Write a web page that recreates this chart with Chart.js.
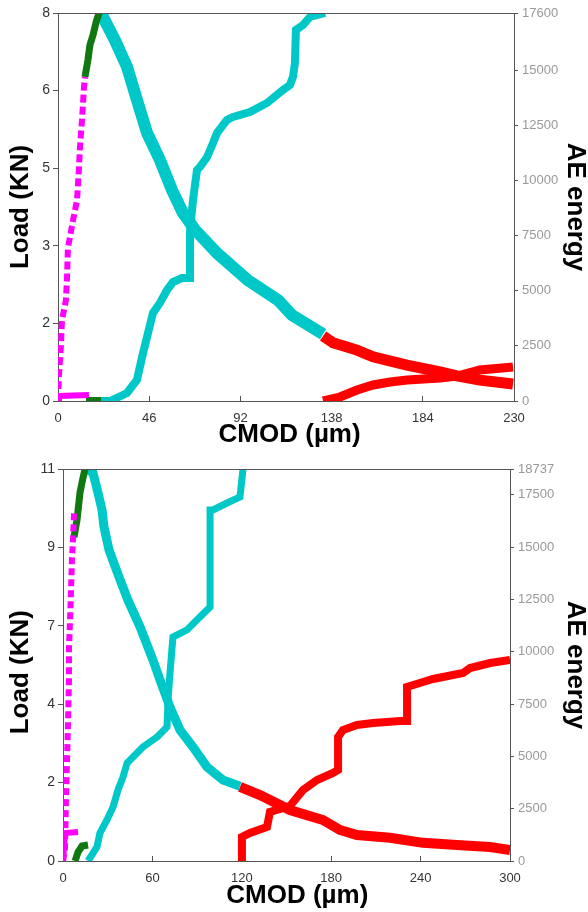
<!DOCTYPE html>
<html>
<head>
<meta charset="utf-8">
<script src="https://cdn.jsdelivr.net/npm/chart.js@4.4.1/dist/chart.umd.min.js"></script>
<style>
  html, body { margin: 0; padding: 0; background: #fff; }
  canvas { display: block; }
</style>
</head>
<body>
<canvas id="chartTop" width="588" height="456"></canvas>
<canvas id="chartBottom" width="588" height="456"></canvas>
<script>
// --- top specimen: [CMOD µm, value] ---
const topMagentaLoad = [[0,0],[0.5,0.54],[1.5,1.15],[2.0,1.67],[4.0,2.08],[4.5,2.49],[5.0,3.15],[7.6,3.73],[9.6,4.14],[10.6,4.82],[11.1,5.24],[12.1,5.79],[13.1,6.47],[13.6,6.68]];
const topGreenLoad = [[13.6,6.68],[15.1,7.03],[16.1,7.34],[17.7,7.55],[19.2,7.81],[20.7,8.0]];
const topCyanLoad = [[21.7,8.0],[28.7,7.44],[34.8,6.89],[39.8,6.21],[44.9,5.53],[51.4,4.97],[57.5,4.35],[63.0,3.88],[69.1,3.53],[80.2,3.05],[95.8,2.49],[111.0,2.08],[118.0,1.77],[133.7,1.38]];
const topRedLoad = [[133.7,1.34],[138.7,1.20],[150.8,1.05],[158.9,0.91],[176.0,0.74],[192.7,0.60],[201.2,0.52],[212.8,0.43],[229.5,0.35]];

const topMagentaEnergy = [[0,0],[0.5,227],[15.6,272]];
const topGreenEnergy = [[14.1,45],[21.7,45]];
const topCyanEnergy = [[21.7,0],[26.2,0],[34.8,363],[39.8,953],[42.9,2177],[45.4,3085],[47.9,3992],[51.4,4445],[55.0,5035],[58.0,5398],[62.5,5580],[66.6,5580],[66.6,7757],[68.1,9118],[70.1,10479],[71.6,10615],[75.2,11068],[78.2,11703],[80.2,12157],[85.2,12746],[88.3,12882],[96.8,13109],[105.4,13517],[113.5,14107],[117.0,14334],[118.5,14697],[119.5,15332],[120.0,16829],[123.6,17056],[127.1,17419],[134.7,17600]];
const topRedEnergy = [[133.7,0],[142.2,181],[150.8,499],[158.9,726],[167.5,862],[176.1,953],[192.7,1043],[201.2,1134],[212.8,1406],[229.5,1542]];

const topCmodTicks = [0,46,92,138,184,230];
const topLoadTicks = [0,1.6,3.2,4.8,6.4,8];
const topEnergyTicks = [0,2500,5000,7500,10000,12500,15000,17600];

// --- bottom specimen ---
const bottomMagentaLoad = [[0,0],[1.3,0.31],[2.0,1.71],[2.7,2.83],[3.4,3.96],[4.0,5.08],[4.0,5.92],[4.7,6.76],[5.4,7.60],[6.0,8.45],[6.7,9.01],[7.4,9.76]];
const bottomGreenLoad = [[7.4,9.09],[9.4,9.57],[11.4,10.33],[13.4,10.75],[14.8,11.0]];
const bottomCyanLoad = [[16.1,11.0],[20.1,10.89],[23.5,10.33],[26.2,9.85],[27.5,9.37],[30.9,8.73],[37.6,7.97],[43.6,7.32],[51.7,6.57],[60.4,5.64],[65.1,5.08],[71.8,4.32],[78.5,3.68],[87.2,3.20],[96.6,2.64],[107.4,2.27],[118.8,2.10]];
const bottomRedLoad = [[118.8,2.08],[132.2,1.85],[145.6,1.57],[152.3,1.43],[174.5,1.15],[185.9,0.87],[197.3,0.73],[219.5,0.65],[241.6,0.51],[264.4,0.45],[286.6,0.39],[300,0.31]];

const bottomMagentaEnergy = [[0,0],[1.3,1338],[10.1,1386]];
const bottomGreenEnergy = [[8.1,0],[10.1,430],[12.8,717],[16.8,765]];
const bottomCyanEnergy = [[16.8,0],[22.8,669],[24.8,1338],[29.5,1960],[33.6,2581],[36.9,3394],[40.3,4015],[43.0,4684],[47.0,4971],[53.7,5449],[63.1,5927],[69.8,6405],[70.5,7696],[71.8,8986],[73.8,10707],[83.2,11042],[91.9,11663],[98.7,12141],[98.7,16778],[100.7,16778],[110.1,17112],[118.8,17399],[120.8,18737]];
const bottomRedEnergy = [[120.1,0],[120.1,1147],[125.5,1338],[136.9,1625],[138.9,2342],[152.3,2629],[161.1,3394],[170.5,3872],[181.2,4206],[184.6,4350],[184.6,5927],[187.9,6262],[197.3,6501],[208.1,6596],[226.2,6692],[230.9,6692],[230.9,8317],[241.6,8556],[248.3,8700],[268.5,8986],[273.2,9225],[286.6,9464],[300,9608]];

const bottomCmodTicks = [0,60,120,180,240,300];
const bottomLoadTicks = [0,2.2,4.4,6.6,8.8,11];
const bottomEnergyTicks = [0,2500,5000,7500,10000,12500,15000,17500,18737];

const MAGENTA = '#ff00ff', GREEN = '#117711', CYAN = '#00c8c8', RED = '#ff0000';
const FONT = 'Liberation Sans, Arial, sans-serif';

function series(arr, color, axis, width, dash) {
  return {
    data: arr.map(p => ({ x: p[0], y: p[1] })),
    yAxisID: axis,
    showLine: true,
    borderColor: color,
    backgroundColor: color,
    borderWidth: width,
    borderDash: dash || [],
    borderCapStyle: 'butt',
    pointRadius: 0,
    tension: 0,
    fill: false,
  };
}

// top edge of the box
const framePlugin = {
  id: 'frame',
  afterDraw(chart) {
    const { ctx, chartArea: a } = chart;
    ctx.save();
    ctx.strokeStyle = '#555';
    ctx.lineWidth = 1;
    ctx.beginPath();
    ctx.moveTo(a.left, a.top + 0.5);
    ctx.lineTo(a.right, a.top + 0.5);
    ctx.stroke();
    ctx.restore();
  }
};

function makeChart(canvasId, c) {
  const ctx = document.getElementById(canvasId).getContext('2d');
  return new Chart(ctx, {
    type: 'scatter',
    data: { datasets: c.datasets },
    plugins: [framePlugin],
    options: {
      responsive: false,
      animation: false,
      devicePixelRatio: 1,
      layout: { padding: { top: 13, left: 0, right: 0, bottom: 0 } },
      plugins: { legend: { display: false }, tooltip: { enabled: false } },
      scales: {
        x: {
          type: 'linear', position: 'bottom', min: 0, max: c.xMax,
          afterBuildTicks: s => { s.ticks = c.xTicks.map(v => ({ value: v })); },
          afterFit: s => { s.height = c.bottomH; },
          ticks: { color: '#333', font: { family: FONT, size: 13 }, padding: 15, maxRotation: 0, callback: v => String(v) },
          grid: { drawOnChartArea: false, tickLength: -5, color: '#555' },
          border: { color: '#555' },
          title: { display: true, text: c.xTitle, color: '#000', font: { family: FONT, size: 26, weight: 'bold', lineHeight: 1 }, padding: { top: 0, bottom: c.xTitlePad } }
        },
        load: {
          type: 'linear', position: 'left', min: 0, max: c.loadMax,
          afterBuildTicks: s => { s.ticks = c.loadTicks.map(v => ({ value: v })); },
          afterFit: s => { s.width = c.leftW; },
          ticks: { color: '#333', font: { family: FONT, size: 14 }, padding: 3, callback: v => String(Math.round(v)) },
          grid: { drawOnChartArea: false, tickLength: 5, color: '#555' },
          border: { color: '#555' },
          title: { display: true, text: c.loadTitle, color: '#000', font: { family: FONT, size: 26, weight: 'bold', lineHeight: 1 }, padding: { top: 8, bottom: 0 } }
        },
        ae: {
          type: 'linear', position: 'right', min: 0, max: c.energyMax,
          afterBuildTicks: s => { s.ticks = c.energyTicks.map(v => ({ value: v })); },
          afterFit: s => { s.width = c.rightW; },
          ticks: { color: '#999', font: { family: FONT, size: 13 }, padding: 4, autoSkip: false, callback: v => String(v) },
          grid: { drawOnChartArea: false, tickLength: 4, color: '#555' },
          border: { color: '#555' },
          title: { display: true, text: 'AE energy', color: '#000', font: { family: FONT, size: 26, weight: 'bold', lineHeight: 1 }, padding: { top: 0, bottom: 0 } }
        }
      }
    }
  });
}

makeChart('chartTop', {
  xMax: 230, xTicks: topCmodTicks, loadMax: 8, loadTicks: topLoadTicks,
  energyMax: 17600, energyTicks: topEnergyTicks,
  leftW: 58, rightW: 74, bottomH: 55, xTitlePad: 8,
  xTitle: ' CMOD (µm)', loadTitle: 'Load (KN)',
  datasets: [
    series(topMagentaEnergy, MAGENTA, 'ae', 6),
    series(topGreenEnergy, GREEN, 'ae', 6),
    series(topCyanEnergy, CYAN, 'ae', 8),
    series(topRedEnergy, RED, 'ae', 9),
    series(topMagentaLoad, MAGENTA, 'load', 6, [8, 4]),
    series(topGreenLoad, GREEN, 'load', 7),
    series(topCyanLoad, CYAN, 'load', 12),
    series(topRedLoad, RED, 'load', 11),
  ]
});

makeChart('chartBottom', {
  xMax: 300, xTicks: bottomCmodTicks, loadMax: 11, loadTicks: bottomLoadTicks,
  energyMax: 18737, energyTicks: bottomEnergyTicks,
  leftW: 63, rightW: 78, bottomH: 51, xTitlePad: 3,
  xTitle: '   CMOD (µm)', loadTitle: 'Load (KN)  ',
  datasets: [
    series(bottomMagentaEnergy, MAGENTA, 'ae', 6),
    series(bottomGreenEnergy, GREEN, 'ae', 7),
    series(bottomCyanEnergy, CYAN, 'ae', 7),
    series(bottomRedEnergy, RED, 'ae', 8),
    series(bottomMagentaLoad, MAGENTA, 'load', 6, [7, 4]),
    series(bottomGreenLoad, GREEN, 'load', 7),
    series(bottomCyanLoad, CYAN, 'load', 9),
    series(bottomRedLoad, RED, 'load', 10),
  ]
});
</script>
</body>
</html>
